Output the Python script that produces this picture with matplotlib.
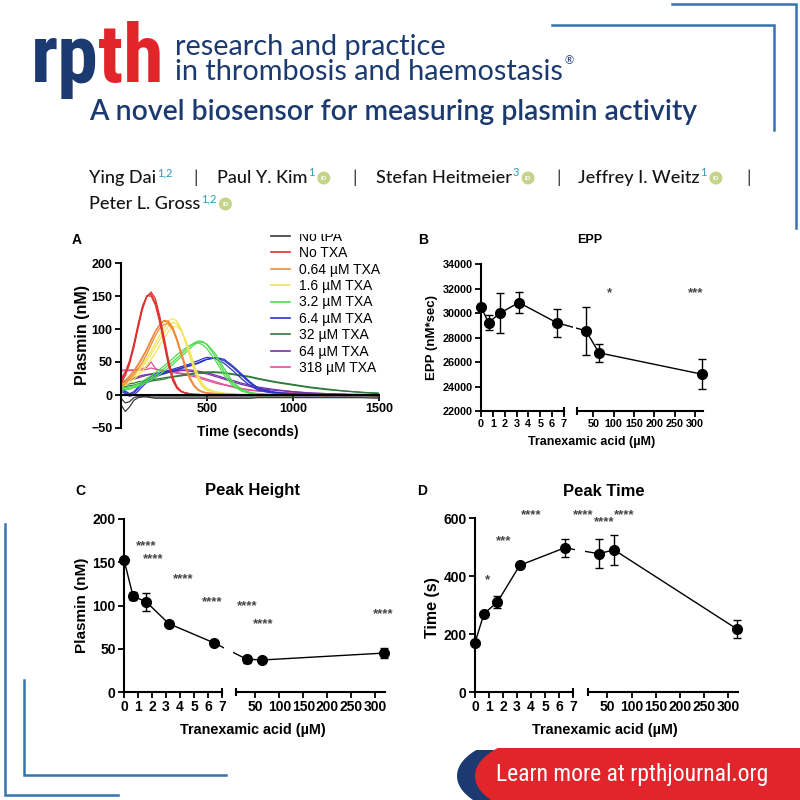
import matplotlib
matplotlib.use("Agg")
import matplotlib.pyplot as plt
from matplotlib import font_manager
from matplotlib.patches import Rectangle, Ellipse, Circle, ConnectionPatch
from matplotlib.lines import Line2D
from matplotlib.transforms import offset_copy

# ---------------- data ----------------
# panel A: plasmin traces (nM) at these times (s), replicate wells per condition
time_s = [0, 25, 50, 75, 100, 125, 150, 175, 200, 225, 250, 275, 300, 325, 350, 375, 400,
          425, 450, 475, 500, 550, 600, 650, 700, 750, 800, 900, 1000, 1100, 1200, 1300, 1400, 1500]

no_tpa = [
    [-15, -25, -18, -8, -4, -3, -3, -4, -5, -5, -5, -5, -5, -5, -5, -5, -5, -5, -5, -5, -5, -5, -5, -5, -5, -5, -4, -4, -4, -4, -4, -4, -4, -5],
    [-5, -12, -10, -4, -2, -2, -2, -3, -3, -3, -3, -3, -3, -3, -3, -3, -3, -3, -3, -3, -3, -3, -3, -3, -3, -3, -3, -3, -3, -3, -3, -3, -3, -3],
]
no_txa = [
    [22, 32, 50, 75, 105, 133, 150, 153, 140, 115, 82, 50, 25, 11, 5, 3, 2, 1, 1, 0, 0, 0, 0, 0, 0, 0, 0, 0, 0, 0, -1, 0, 0, -2],
    [18, 29, 47, 72, 102, 130, 149, 156, 146, 120, 88, 55, 28, 13, 6, 3, 2, 1, 1, 0, 0, 0, 0, 0, 0, 0, 0, 0, 0, 0, 0, 0, 0, 0],
    [25, 35, 52, 78, 108, 135, 150, 150, 136, 110, 78, 46, 22, 10, 5, 3, 2, 1, 0, 0, 0, 0, 0, 0, 0, 0, 0, 0, 0, 0, 0, -1, 0, -1],
]
txa_064 = [
    [15, 20, 27, 35, 45, 56, 68, 82, 96, 106, 112, 110, 100, 82, 60, 40, 24, 13, 7, 4, 3, 2, 1, 1, 0, 0, 0, 0, 0, 0, 0, 0, 0, 0],
    [12, 17, 24, 31, 40, 50, 62, 76, 90, 101, 107, 108, 99, 84, 64, 44, 27, 15, 8, 5, 3, 2, 1, 1, 0, 0, 0, 0, 0, 0, 0, 0, 0, 0],
    [18, 22, 29, 37, 47, 58, 70, 84, 97, 107, 113, 112, 103, 86, 64, 43, 26, 14, 8, 4, 3, 2, 1, 0, 0, 0, 0, 0, 0, 0, 0, 0, 0, 0],
]
txa_16 = [
    [14, 17, 22, 28, 35, 43, 52, 62, 73, 84, 95, 104, 110, 108, 98, 82, 62, 42, 25, 14, 8, 4, 2, 1, 1, 0, 0, 0, 0, 0, 0, 0, 0, 0],
    [12, 15, 19, 24, 30, 37, 45, 54, 64, 75, 86, 96, 103, 104, 97, 84, 66, 46, 29, 17, 10, 5, 3, 2, 1, 0, 0, 0, 0, 0, 0, 0, 0, 0],
    [16, 19, 24, 30, 38, 46, 56, 67, 79, 91, 102, 112, 116, 112, 100, 80, 58, 38, 22, 12, 7, 4, 2, 1, 0, 0, 0, 0, 0, 0, 0, 0, 0, 0],
]
txa_32 = [
    [10, 9, 10, 12, 15, 18, 22, 26, 30, 35, 40, 45, 50, 56, 62, 68, 74, 79, 82, 81, 76, 58, 35, 17, 7, 3, 1, 0, 0, 0, 0, 0, 0, 0],
    [8, 8, 9, 11, 13, 16, 19, 23, 27, 31, 36, 41, 46, 52, 58, 64, 70, 76, 80, 80, 77, 62, 40, 20, 9, 4, 2, 1, 0, 0, 0, 0, 0, 0],
    [12, 11, 12, 14, 17, 21, 25, 29, 34, 39, 44, 49, 55, 61, 66, 71, 75, 78, 79, 76, 70, 52, 30, 14, 6, 2, 1, 0, 0, 0, 0, 0, 0, 0],
]
txa_64 = [
    [10, 4, 0, 3, 10, 17, 22, 26, 29, 31, 33, 35, 37, 39, 41, 43, 45, 47, 49, 52, 54, 56, 52, 42, 30, 18, 9, 3, 1, 0, 0, 0, 0, 0],
    [6, 2, -2, 0, 6, 13, 19, 23, 27, 30, 32, 34, 36, 38, 40, 42, 44, 46, 48, 51, 54, 57, 54, 44, 32, 20, 10, 4, 2, 1, 0, 0, 0, 0],
    [12, 6, 2, 5, 12, 19, 24, 28, 31, 33, 35, 37, 39, 41, 43, 45, 47, 50, 52, 55, 57, 55, 48, 37, 25, 14, 7, 2, 1, 0, 0, 0, 0, 0],
]
txa_320 = [
    [15, 16, 17, 18, 20, 21, 22, 23, 24, 25, 26, 27, 28, 29, 30, 31, 32, 33, 34, 34, 35, 35, 34, 32, 30, 28, 25, 20, 16, 12, 9, 6, 4, 2],
    [12, 13, 14, 15, 17, 18, 19, 21, 22, 23, 24, 26, 27, 28, 29, 30, 31, 32, 33, 33, 34, 34, 33, 31, 29, 27, 24, 19, 15, 11, 8, 6, 4, 3],
]
txa_640 = [
    [20, 22, 24, 26, 28, 30, 31, 32, 33, 34, 35, 36, 37, 37, 38, 38, 38, 37, 36, 35, 34, 30, 26, 22, 18, 15, 12, 8, 5, 3, 2, 1, 1, 0],
    [18, 20, 22, 24, 26, 28, 30, 31, 32, 33, 34, 35, 36, 36, 37, 37, 36, 35, 34, 33, 32, 28, 24, 20, 16, 13, 10, 7, 5, 3, 2, 1, 0, 0],
]
txa_3180 = [
    [38, 38, 38, 38, 39, 40, 42, 50, 40, 38, 37, 36, 35, 34, 33, 32, 31, 30, 28, 26, 24, 20, 16, 13, 10, 8, 6, 4, 3, 2, 1, 1, 0, 0],
    [36, 37, 37, 37, 38, 38, 39, 41, 39, 37, 36, 35, 34, 33, 32, 31, 29, 28, 26, 24, 22, 18, 15, 12, 9, 7, 6, 4, 3, 2, 1, 0, 0, 0],
]
trace_labels = ["No tPA", "No TXA", "0.64 µM TXA", "1.6 µM TXA", "3.2 µM TXA",
                "6.4 µM TXA", "32 µM TXA", "64 µM TXA", "318 µM TXA"]
trace_colors = ["#3a3a3a", "#e0302e", "#f08a3a", "#f3e45a", "#4fdc4f",
                "#2a35c8", "#2f7a3a", "#7a2fa8", "#e0509a"]
trace_sets = [no_tpa, no_txa, txa_064, txa_16, txa_32, txa_64, txa_320, txa_640, txa_3180]

# panels B-D: summary vs tranexamic acid concentration
txa_conc = [0, 0.64, 1.6, 3.2, 6.4, 32, 64, 318]
epp = [30500, 29200, 30000, 30850, 29200, 28550, 26750, 25000]
epp_err = [250, 600, 1600, 850, 1150, 1950, 720, 1220]
peak_height = [153, 111, 104, 79, 57, 38, 37, 45]
peak_height_err = [2, 5, 10, 3, 2, 4, 2, 6]
peak_time = [170, 270, 310, 437, 497, 477, 490, 217]
peak_time_err = [4, 6, 20, 8, 30, 50, 52, 30]

# significance marks: (text, segment, x, y)
epp_stars = [("*", "hi", 90, 31900), ("***", "hi", 302, 31900)]
height_stars = [("****", "lo", 1.6, 173), ("****", "lo", 2.1, 158), ("****", "lo", 4.2, 135),
                ("****", "lo", 6.3, 108), ("****", "hi", 33, 103), ("****", "hi", 67, 83),
                ("****", "hi", 316, 94)]
time_stars = [("*", "lo", 0.86, 397), ("***", "lo", 2.07, 531), ("****", "lo", 4.0, 621),
              ("****", "lo", 7.7, 621), ("****", "hi", 44, 597), ("****", "hi", 85, 621)]

# ---------------- styling ----------------
W = H = 800


def fx(x):
    return x / W


def fy(y):
    return 1 - y / H


installed = {f.name for f in font_manager.fontManager.ttflist}


def pick(*names):
    for n in names:
        if n in installed:
            return n
    return "DejaVu Sans"


NARROW = pick("Liberation Sans Narrow", "Roboto Condensed", "DejaVu Sans Condensed", "Liberation Sans")
HUM = pick("Lato", "Open Sans", "Noto Sans")
ARIAL = pick("Liberation Sans", "DejaVu Sans")

NAVY = "#1b3a70"
RED = "#e2242b"
DECO = "#3574b0"
TEAL = "#2a9bb5"
ORCID = "#c5d48a"

plt.rcParams.update({
    "font.family": [ARIAL, "DejaVu Sans"],
    "font.weight": "bold",
    "axes.linewidth": 1.5,
    "xtick.major.width": 1.3, "ytick.major.width": 1.3,
    "xtick.major.size": 4, "ytick.major.size": 4,
    "xtick.labelsize": 9, "ytick.labelsize": 9,
    "xtick.major.pad": 2, "ytick.major.pad": 2,
})

fig = plt.figure(figsize=(8, 8), dpi=100)
renderer = fig.canvas.get_renderer()

# ---------------- header ----------------
rp = fig.text(fx(31), fy(82), "rp", fontsize=59, fontweight="bold", color=NAVY,
              family=[NARROW, "DejaVu Sans"], va="baseline")
bb = rp.get_window_extent(renderer)
fig.text(bb.x1 / W - 0.001, fy(82), "th", fontsize=59, fontweight="bold", color=RED,
         family=[NARROW, "DejaVu Sans"], va="baseline")
fig.text(fx(175), fy(55), "research and practice", fontsize=20.8, family=HUM,
         fontweight="normal", color=NAVY, va="baseline")
t2 = fig.text(fx(175), fy(80), "in thrombosis and haemostasis", fontsize=20.8, family=HUM,
              fontweight="normal", color=NAVY, va="baseline")
bb = t2.get_window_extent(renderer)
fig.text(bb.x1 / W + 0.002, fy(64), "®", fontsize=8, family=HUM, fontweight="normal",
         color=NAVY, va="baseline")
fig.text(fx(89), fy(120), "A novel biosensor for measuring plasmin activity", fontsize=20.4,
         family=HUM, fontweight="semibold", color=NAVY, va="baseline")

authors = [(89, 183, "Ying Dai", "1,2", False),
           (217, 183, "Paul Y. Kim", "1", True),
           (376, 183, "Stefan Heitmeier", "3", True),
           (578, 183, "Jeffrey I. Weitz", "1", True),
           (89, 209, "Peter L. Gross", "1,2", True)]
for x, y, name, aff, orcid in authors:
    t = fig.text(fx(x), fy(y), name, fontsize=13, family=HUM, fontweight="medium",
                 color="#151515", va="baseline")
    bb = t.get_window_extent(renderer)
    s = fig.text(bb.x1 / W + 0.001, fy(y - 7), aff, fontsize=8, family=HUM,
                 fontweight="normal", color=TEAL, va="baseline")
    if orcid:
        sb = s.get_window_extent(renderer)
        cx = sb.x1 + 9
        fig.add_artist(Circle((cx / W, fy(y - 5)), 6.5 / W, transform=fig.transFigure,
                              color=ORCID, lw=0))
        fig.text(cx / W, fy(y - 5), "iD", fontsize=4.5, color="white", ha="center",
                 va="center", fontweight="bold")
for x in [196, 355, 559, 749]:
    fig.text(fx(x), fy(183), "|", fontsize=13, family=HUM, fontweight="normal",
             color="#333333", va="baseline", ha="center")

# decorative corner lines
deco = [([672, 796, 796], [4, 4, 228]), ([552, 774, 774], [25, 25, 130]),
        ([5, 5, 118], [524, 795, 795]), ([24, 24, 226], [680, 775, 775])]
for xs, ys in deco:
    fig.add_artist(Line2D([fx(v) for v in xs], [fy(v) for v in ys], transform=fig.transFigure,
                          color=DECO, lw=1.8, solid_joinstyle="miter"))

# banner
clip_b = Rectangle((fx(440), 0), fx(360), 50 / H, transform=fig.transFigure)
e = Ellipse((fx(537), fy(776)), 160 / W, 80 / H, transform=fig.transFigure, color=NAVY, lw=0)
fig.add_artist(e)
e.set_clip_path(clip_b)
fig.add_artist(Rectangle((fx(537), 0), fx(263), 50 / H, transform=fig.transFigure, color=NAVY, lw=0))
clip_r = Rectangle((fx(440), 0), fx(360), 52 / H, transform=fig.transFigure)
e = Ellipse((fx(555), fy(776)), 160 / W, 80 / H, transform=fig.transFigure, color=RED, lw=0)
fig.add_artist(e)
e.set_clip_path(clip_r)
fig.add_artist(Rectangle((fx(555), 0), fx(245), 52 / H, transform=fig.transFigure, color=RED, lw=0))
fig.text(fx(632), fy(774), "Learn more at rpthjournal.org", fontsize=17, color="white",
         family=[NARROW, "DejaVu Sans"], fontweight="normal", ha="center", va="center")

# ---------------- panel A ----------------
ax_a = fig.add_axes([fx(121), fy(428), 258 / W, 165 / H])
for reps, col in reversed(list(zip(trace_sets, trace_colors))):
    for r in reps:
        ax_a.plot(time_s, r, color=col, lw=0.9)
ax_a.set_xlim(0, 1500)
ax_a.set_ylim(-50, 200)
ax_a.spines[["top", "right"]].set_visible(False)
ax_a.spines["bottom"].set_position(("data", 0))
ax_a.set_xticks([500, 1000, 1500])
ax_a.set_yticks([-50, 0, 50, 100, 150, 200])
handles = [Line2D([], [], color=c, lw=1.2) for c in trace_colors]
ax_a.legend(handles, trace_labels, loc="upper left", bbox_to_anchor=(fx(271), fy(230)),
            bbox_transform=fig.transFigure, frameon=False, handlelength=1.4,
            handletextpad=0.65, labelspacing=0.17, borderpad=0, borderaxespad=0,
            prop={"family": ARIAL, "weight": "normal", "size": 10})
fig.add_artist(Rectangle((fx(262), fy(234)), 140 / W, 10 / H, transform=fig.transFigure,
                         color="white", lw=0, zorder=5))


# ---------------- panels B-D ----------------
def broken_panel(lo_box, hi_box, y, yerr, ylim, yticks, stars, gap, tick_fs):
    ax_lo = fig.add_axes(lo_box)
    ax_hi = fig.add_axes(hi_box)
    lo = [i for i, c in enumerate(txa_conc) if c <= 7]
    hi = [i for i, c in enumerate(txa_conc) if c > 7]
    for ax, idx in ((ax_lo, lo), (ax_hi, hi)):
        cont = ax.errorbar([txa_conc[i] for i in idx], [y[i] for i in idx],
                           yerr=[yerr[i] for i in idx], fmt="-o", color="black", ms=7,
                           lw=1, elinewidth=1, capsize=3, capthick=1, zorder=3)
        for art in cont.get_children():
            art.set_clip_on(False)
        ax.set_ylim(ylim)
        ax.spines[["top", "right"]].set_visible(False)
        ax.tick_params(labelsize=tick_fs)
    ax_lo.set_xlim(0, 7)
    ax_lo.set_xticks(range(8))
    ax_lo.set_yticks(yticks)
    ax_hi.set_xlim(10, 320)
    ax_hi.set_xticks([50, 100, 150, 200, 250, 300])
    ax_hi.spines["left"].set_visible(False)
    ax_hi.tick_params(axis="y", left=False, labelleft=False)
    ax_lo.plot([7], [0], transform=ax_lo.get_xaxis_transform(), marker="|", ms=6, mew=1.5,
               color="black", clip_on=False)
    ax_hi.plot([10], [0], transform=ax_hi.get_xaxis_transform(), marker="|", ms=6, mew=1.5,
               color="black", clip_on=False)
    a = (txa_conc[lo[-1]], y[lo[-1]])
    b = (txa_conc[hi[0]], y[hi[0]])
    fig.add_artist(ConnectionPatch(xyA=a, coordsA=ax_lo.transData, xyB=b,
                                   coordsB=ax_hi.transData, color="black", lw=1, zorder=3))
    # small break in the connecting line, centred in the axis gap
    ya = ax_lo.transData.transform(a)[1]
    yb = ax_hi.transData.transform(b)[1]
    gx, gw = gap
    fig.add_artist(Rectangle((fx(gx - gw / 2), (min(ya, yb) - 6) / H), gw / W,
                             (abs(ya - yb) + 12) / H, transform=fig.transFigure,
                             color="white", lw=0, zorder=4))
    for txt, seg, sx, sy in stars:
        ax = ax_lo if seg == "lo" else ax_hi
        ax.text(sx, sy, txt, fontsize=9.5, color="#444444", ha="center", va="center",
                fontweight="bold", clip_on=False,
                transform=offset_copy(ax.transData, fig=fig, y=-2.5, units="points"))
    return ax_lo, ax_hi


broken_panel([fx(481), fy(411), 83 / W, 147 / H], [fx(577), fy(411), 126 / W, 147 / H],
             epp, epp_err, (22000, 34000), range(22000, 34001, 2000), epp_stars, (574, 3), 7.8)
broken_panel([fx(124), fy(692), 98 / W, 173 / H], [fx(236), fy(692), 149 / W, 173 / H],
             peak_height, peak_height_err, (0, 200), range(0, 201, 50), height_stars, (228, 9), 10)
broken_panel([fx(475), fy(692), 98 / W, 174 / H], [fx(588), fy(692), 150 / W, 174 / H],
             peak_time, peak_time_err, (0, 600), range(0, 601, 200), time_stars, (580, 10), 10)

# panel letters, titles, axis labels
for x, y, s in [(77, 240, "A"), (423, 240, "B"), (80, 491, "C"), (422, 491, "D")]:
    fig.text(fx(x), fy(y), s, fontsize=10, ha="center", va="center")
for x, y, s, fs in [(590, 240, "EPP", 9), (253, 491, "Peak Height", 12), (604, 491, "Peak Time", 12)]:
    fig.text(fx(x), fy(y), s, fontsize=fs, ha="center", va="center")
for x, y, s, fs in [(248, 432, "Time (seconds)", 10), (592, 442, "Tranexamic acid (µM)", 9),
                    (253, 730, "Tranexamic acid (µM)", 10.4), (605, 730, "Tranexamic acid (µM)", 10.4)]:
    fig.text(fx(x), fy(y), s, fontsize=fs, ha="center", va="center")
for x, y, s, fs in [(82, 335, "Plasmin (nM)", 11.5), (432, 337, "EPP (nM*sec)", 9.5),
                    (82, 605, "Plasmin (nM)", 11), (432, 608, "Time (s)", 11.5)]:
    fig.text(fx(x), fy(y), s, fontsize=fs, ha="center", va="center", rotation=90)

fig.savefig("out.png", dpi=100)
